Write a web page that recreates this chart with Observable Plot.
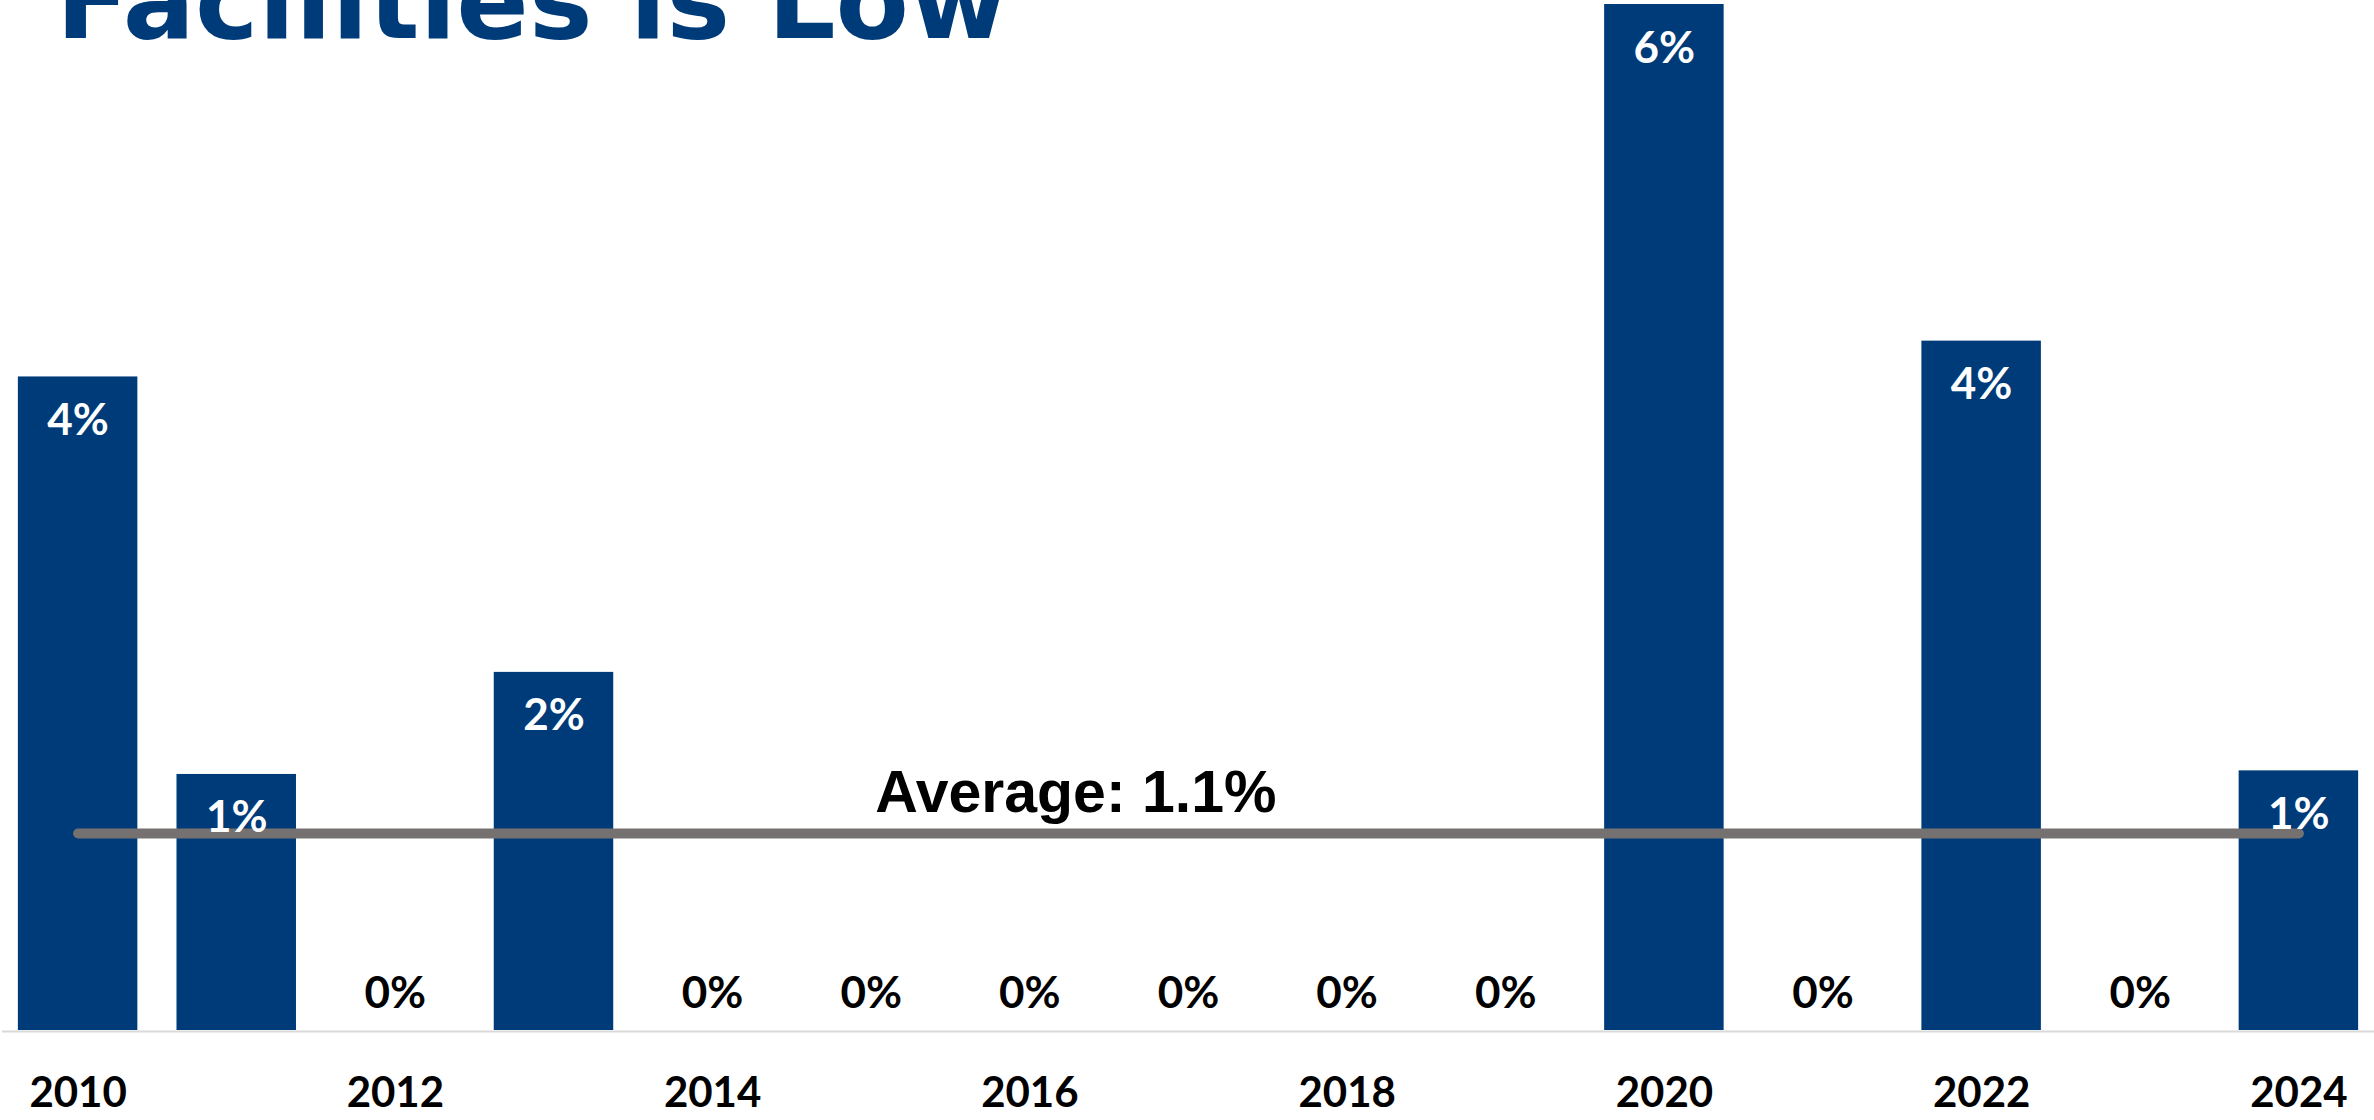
<!DOCTYPE html>
<html>
<head>
<meta charset="utf-8">
<script src="https://cdn.jsdelivr.net/npm/d3@7"></script>
<script src="https://cdn.jsdelivr.net/npm/@observablehq/plot@0.6"></script>
<style>
  html, body { margin: 0; padding: 0; background: #ffffff; overflow: hidden; }
  #wrap { position: relative; width: 2374px; height: 1120px; }
  #title {
    position: absolute; left: 56px; top: -52px; margin: 0;
    font-family: "DejaVu Sans", sans-serif; font-weight: 700;
    font-size: 107px; line-height: 1; color: #003b79; white-space: nowrap;
  }
  #chart { position: absolute; left: 0; top: 0; }
</style>
</head>
<body>
<div id="wrap">
  <div id="chart"></div>
  <h1 id="title">Facilities is Low</h1>
</div>
<script>
// Data (percent)
const years = [2010, 2011, 2012, 2013, 2014, 2015, 2016, 2017, 2018, 2019, 2020, 2021, 2022, 2023, 2024];
const rates = [3.65, 1.43, 0, 2.0, 0, 0, 0, 0, 0, 0, 5.73, 0, 3.85, 0, 1.45];
const averageRate = 1.1;
const averageLabel = "Average: 1.1%";
const tickYears = [2010, 2012, 2014, 2016, 2018, 2020, 2022, 2024];

const data = years.map((year, i) => ({year, rate: rates[i], label: Math.round(rates[i]) + "%"}));
const avgLine = [{year: years[0], v: averageRate}, {year: years[years.length - 1], v: averageRate}];

const navy = "#003b79";

const chart = Plot.plot({
  width: 2374,
  height: 1120,
  marginTop: 4,
  marginBottom: 90,
  marginLeft: 2,
  marginRight: 0,
  style: {fontFamily: "Lato, 'Open Sans', sans-serif", background: "#ffffff", color: "#000000"},
  x: {type: "band", domain: years, paddingInner: 0.2467, paddingOuter: 0.1, round: false, label: null},
  y: {domain: [0, 5.73], axis: null},
  marks: [
    Plot.ruleY([0], {stroke: "#d9d9d9", strokeWidth: 2, dy: 1}),
    Plot.barY(data, {x: "year", y: "rate", fill: navy}),
    Plot.lineY(avgLine, {x: "year", y: "v", stroke: "#767171", strokeWidth: 10, strokeLinecap: "round"}),
    Plot.text(data.filter(d => d.rate > 0), {
      x: "year", y: "rate", text: "label", fill: "#ffffff",
      lineAnchor: "bottom", dy: 58, fontSize: 44, fontWeight: 700
    }),
    Plot.text(data.filter(d => d.rate === 0), {
      x: "year", y: "rate", text: "label", fill: "#000000",
      lineAnchor: "bottom", dy: -23, fontSize: 44, fontWeight: 700
    }),
    Plot.text([{year: 2015, v: averageRate, t: averageLabel}], {
      x: "year", y: "v", text: "t", fill: "#000000", textAnchor: "start",
      lineAnchor: "bottom", dx: 4, dy: -22, fontSize: 59, fontWeight: 700,
      fontFamily: "Liberation Sans, Arial, sans-serif"
    }),
    Plot.axisX({
      ticks: tickYears, tickSize: 0, tickPadding: 47, fontSize: 42, fontWeight: 700,
      tickFormat: d => String(d), fill: "#000000", label: null
    })
  ]
});
document.getElementById("chart").appendChild(chart);
</script>
</body>
</html>
